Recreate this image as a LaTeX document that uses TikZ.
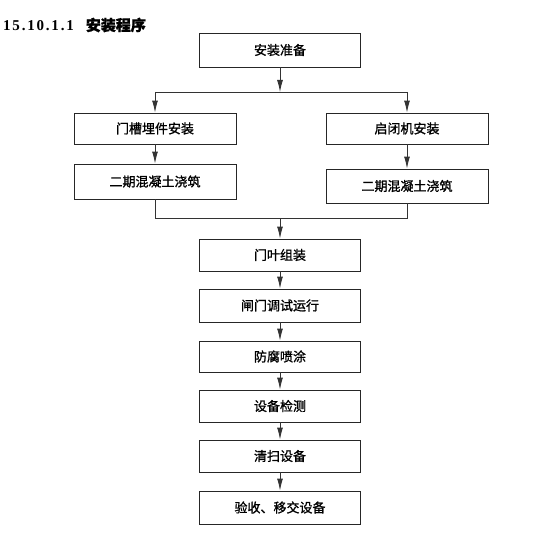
\documentclass[tikz,border=0pt]{standalone}
\usepackage{fontspec}
\usetikzlibrary{arrows.meta}
\newfontfamily\cjk[FakeBold=1.2]{Noto Sans CJK SC}
\newfontfamily\titlenum[LetterSpace=12]{Liberation Serif}
\begin{document}
\begin{tikzpicture}[x=1pt,y=-1pt,
  box/.style={draw=black!85,line width=0.9pt,minimum width=161pt,minimum height=33pt,inner sep=0pt,font=\cjk\fontsize{13}{15}\selectfont},
  link/.style={draw=black!80,line width=0.9pt},
  arr/.style={link,-{Latex[length=12pt,width=6pt]}}]
\useasboundingbox (0,0) rectangle (553,532);
% title
\node[anchor=west,inner sep=0pt] (title) at (3,25)
  {\titlenum\bfseries\fontsize{15}{17}\selectfont 15.10.1.1\hspace{12pt}\cjk\bfseries 安装程序};
% boxes
\node[box,minimum height=34pt] (prep) at (280,50) {安装准备};
\node[box,minimum width=162pt,minimum height=31pt] (a1) at (155,128.5) {门槽埋件安装};
\node[box,minimum width=162pt,minimum height=35pt] (a2) at (155,181.5) {二期混凝土浇筑};
\node[box,minimum width=162pt,minimum height=31pt] (b1) at (407,128.5) {启闭机安装};
\node[box,minimum width=162pt,minimum height=34pt] (b2) at (407,186) {二期混凝土浇筑};
\node[box,minimum height=32pt] (c1) at (280,255) {门叶组装};
\node[box] (c2) at (280,305.5) {闸门调试运行};
\node[box,minimum height=31pt] (c3) at (280,356.5) {防腐喷涂};
\node[box,minimum height=32pt] (c4) at (280,406) {设备检测};
\node[box,minimum height=32pt] (c5) at (280,456) {清扫设备};
\node[box] (c6) at (280,507.5) {验收、移交设备};
% split
\coordinate (s) at (280,92);
\coordinate (sl) at (155,92);
\coordinate (sr) at (407,92);
\draw[arr] (prep) -- (s);
\draw[link] (sl) -- (sr);
\draw[arr] (sl) -- (a1);
\draw[arr] (sr) -- (b1);
\draw[arr] (a1) -- (a2);
\draw[arr] (b1) -- (b2);
% merge
\coordinate (m) at (280,218);
\coordinate (ml) at (155,218);
\coordinate (mr) at (407,218);
\draw[link] (a2.south) -- (ml) -- (mr) -- (b2.south);
\draw[arr] (m) -- (c1);
\draw[arr] (c1) -- (c2);
\draw[arr] (c2) -- (c3);
\draw[arr] (c3) -- (c4);
\draw[arr] (c4) -- (c5);
\draw[arr] (c5) -- (c6);
\end{tikzpicture}
\end{document}
